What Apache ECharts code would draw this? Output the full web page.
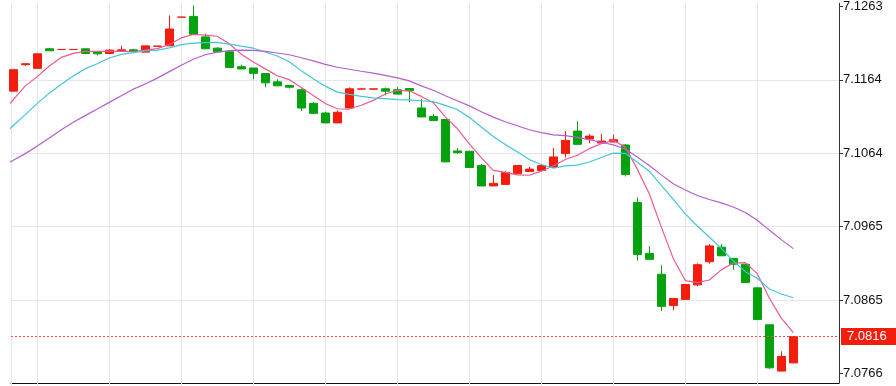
<!DOCTYPE html>
<html><head><meta charset="utf-8">
<script src="https://cdn.jsdelivr.net/npm/echarts/dist/echarts.min.js"></script>
<style>html,body{margin:0;padding:0;background:#fff}#c{width:896px;height:386px}</style>
</head><body><div id="c"></div>
<script>
// Candles (index 0..65)
const opens = [
7.11483, 7.11842, 7.11792, 7.12057, 7.12048, 7.12048, 7.12057, 7.12016, 7.11993, 7.12030,
7.12043, 7.12012, 7.12091, 7.12097, 7.12486, 7.12496, 7.12218, 7.12066, 7.12016, 7.11815,
7.11797, 7.11721, 7.11609, 7.11560, 7.11502, 7.11318, 7.11187, 7.11053, 7.11255, 7.11511,
7.11511, 7.11515, 7.11502, 7.11519, 7.11255, 7.11139, 7.11099, 7.10673, 7.10669, 7.10475,
7.10199, 7.10220, 7.10364, 7.10395, 7.10408, 7.10449, 7.10637, 7.10942, 7.10834, 7.10780,
7.10794, 7.10754, 7.09974, 7.09285, 7.09003, 7.08581, 7.08662, 7.08859, 7.09172, 7.09370,
7.09218, 7.09138, 7.08819, 7.08318, 7.07691, 7.07802];
const closes = [
7.11774, 7.11855, 7.11989, 7.12030, 7.12048, 7.12048, 7.11993, 7.11989, 7.12039, 7.12043,
7.12020, 7.12097, 7.12094, 7.12325, 7.12486, 7.12254, 7.12057, 7.12016, 7.11805, 7.11784,
7.11725, 7.11596, 7.11555, 7.11537, 7.11255, 7.11183, 7.11053, 7.11197, 7.11515, 7.11514,
7.11514, 7.11483, 7.11443, 7.11488, 7.11134, 7.11085, 7.10525, 7.10650, 7.10449, 7.10199,
7.10234, 7.10381, 7.10475, 7.10427, 7.10475, 7.10592, 7.10817, 7.10763, 7.10874, 7.10807,
7.10825, 7.10355, 7.09272, 7.09205, 7.08568, 7.08675, 7.08864, 7.09132, 7.09387, 7.09253,
7.09138, 7.08890, 7.08389, 7.07735, 7.07888, 7.08160];
const lows = [
7.11483, 7.11824, 7.11792, 7.12030, 7.12048, 7.12048, 7.11993, 7.11967, 7.11993, 7.12030,
7.12020, 7.12012, 7.12091, 7.12097, 7.12486, 7.12254, 7.12057, 7.12016, 7.11805, 7.11784,
7.11644, 7.11537, 7.11555, 7.11519, 7.11214, 7.11183, 7.11053, 7.11053, 7.11255, 7.11511,
7.11511, 7.11425, 7.11443, 7.11335, 7.11134, 7.11085, 7.10525, 7.10633, 7.10449, 7.10199,
7.10199, 7.10220, 7.10364, 7.10395, 7.10408, 7.10449, 7.10583, 7.10763, 7.10776, 7.10780,
7.10794, 7.10328, 7.09186, 7.09205, 7.08506, 7.08514, 7.08662, 7.08837, 7.09146, 7.09253,
7.09065, 7.08890, 7.08389, 7.07722, 7.07691, 7.07802];
const highs = [
7.11774, 7.11855, 7.11989, 7.12070, 7.12048, 7.12048, 7.12057, 7.12016, 7.12053, 7.12097,
7.12057, 7.12097, 7.12094, 7.12509, 7.12486, 7.12644, 7.12262, 7.12079, 7.12026, 7.11842,
7.11797, 7.11721, 7.11644, 7.11560, 7.11519, 7.11331, 7.11206, 7.11224, 7.11533, 7.11530,
7.11514, 7.11533, 7.11537, 7.11519, 7.11375, 7.11174, 7.11099, 7.10713, 7.10669, 7.10498,
7.10347, 7.10404, 7.10475, 7.10458, 7.10475, 7.10713, 7.10942, 7.11076, 7.10901, 7.10901,
7.10892, 7.10767, 7.10042, 7.09383, 7.09124, 7.08675, 7.08864, 7.09151, 7.09410, 7.09410,
7.09218, 7.09138, 7.08819, 7.08318, 7.07959, 7.08160];

// Moving averages, index -1..65 (first point lies just left of the visible window)
const maFirstIndex = -1;
const ma5 = [7.11183,
7.11367, 7.11555, 7.11680, 7.11824, 7.11940, 7.11995, 7.12022, 7.12022, 7.12024, 7.12023,
7.12018, 7.12038, 7.12059, 7.12116, 7.12204, 7.12251, 7.12243, 7.12227, 7.12124, 7.11983,
7.11878, 7.11785, 7.11692, 7.11639, 7.11534, 7.11425, 7.11316, 7.11245, 7.11241, 7.11292,
7.11358, 7.11444, 7.11494, 7.11488, 7.11412, 7.11327, 7.11135, 7.10977, 7.10768, 7.10582,
7.10411, 7.10383, 7.10348, 7.10344, 7.10399, 7.10470, 7.10557, 7.10615, 7.10704, 7.10771,
7.10817, 7.10725, 7.10427, 7.10093, 7.09645, 7.09215, 7.08917, 7.08889, 7.08925, 7.09062,
7.09155, 7.09160, 7.09011, 7.08681, 7.08408, 7.08213];
const ma10 = [7.10861,
7.11018, 7.11166, 7.11318, 7.11456, 7.11577, 7.11690, 7.11788, 7.11855, 7.11932, 7.11981,
7.12005, 7.12030, 7.12040, 7.12070, 7.12113, 7.12134, 7.12140, 7.12143, 7.12120, 7.12094,
7.12065, 7.12014, 7.11960, 7.11882, 7.11758, 7.11651, 7.11551, 7.11470, 7.11440, 7.11413,
7.11392, 7.11381, 7.11369, 7.11365, 7.11353, 7.11342, 7.11290, 7.11234, 7.11128, 7.10997,
7.10869, 7.10759, 7.10662, 7.10556, 7.10490, 7.10441, 7.10470, 7.10481, 7.10524, 7.10584,
7.10643, 7.10641, 7.10521, 7.10399, 7.10208, 7.10016, 7.09821, 7.09657, 7.09508, 7.09354,
7.09185, 7.09038, 7.08949, 7.08803, 7.08735, 7.08684];
const ma20 = [7.10458,
7.10548, 7.10637, 7.10740, 7.10848, 7.10959, 7.11062, 7.11152, 7.11241, 7.11331, 7.11421,
7.11510, 7.11580, 7.11660, 7.11748, 7.11835, 7.11915, 7.11976, 7.12012, 7.12032, 7.12038,
7.12035, 7.12022, 7.12000, 7.11976, 7.11936, 7.11893, 7.11846, 7.11807, 7.11780, 7.11753,
7.11727, 7.11698, 7.11664, 7.11623, 7.11555, 7.11496, 7.11420, 7.11353, 7.11284, 7.11205,
7.11131, 7.11069, 7.11015, 7.10960, 7.10921, 7.10892, 7.10880, 7.10858, 7.10826, 7.10791,
7.10756, 7.10700, 7.10591, 7.10477, 7.10349, 7.10228, 7.10145, 7.10070, 7.10016, 7.09969,
7.09914, 7.09840, 7.09735, 7.09601, 7.09472, 7.09350];

const lastPrice = 7.0816;
const yTicks = [7.0766, 7.08654, 7.09648, 7.10642, 7.11636, 7.1263];
const xGridIndices = [-0.19, 2, 8, 14, 20, 26, 32, 38, 44, 50, 56, 62];

const candleData = opens.map((o, i) => [i, o, closes[i], lows[i], highs[i]]);
const maData = arr => arr.map((v, j) => [j + maFirstIndex, v]);

const UP = '#f21d0d', DOWN = '#03a20e';
const PRICE_LINE = '#f04a44';
const gridColor = '#e2e8ee';
const font = 'Liberation Sans, Arial, sans-serif';

const chart = echarts.init(document.getElementById('c'), null, {renderer: 'canvas'});
chart.setOption({
  animation: false,
  backgroundColor: '#ffffff',
  grid: {left: 11, right: 57, top: 0, bottom: 3, containLabel: false},
  xAxis: {
    type: 'value', min: -0.19, max: 68.81,
    axisLine: {show: true, lineStyle: {color: '#111', width: 1}},
    axisTick: {show: true, length: 3, customValues: xGridIndices, lineStyle: {color: gridColor}},
    axisLabel: {show: false},
    splitLine: {show: true, showMinLine: true, lineStyle: {color: gridColor, width: 1}}
  },
  yAxis: {
    type: 'value', position: 'right', scale: true,
    min: 7.075296, max: 7.126744,
    axisLine: {show: true, onZero: false, lineStyle: {color: '#333', width: 1}},
    axisTick: {show: true, length: 4, customValues: yTicks, lineStyle: {color: '#333'}},
    axisLabel: {show: true, customValues: yTicks, margin: 4, color: '#111', fontSize: 13, fontFamily: font,
      formatter: v => Number(v).toFixed(4)},
    splitLine: {show: true, showMinLine: false, showMaxLine: false, lineStyle: {color: gridColor, width: 1}}
  },
  series: [
    {
      type: 'candlestick', name: 'K', data: candleData, barWidth: 8, clip: true,
      itemStyle: {color: UP, color0: DOWN, borderColor: UP, borderColor0: DOWN, borderWidth: 1},
      markLine: {
        silent: true, symbol: ['none', 'none'], animation: false, precision: 4,
        data: [{yAxis: lastPrice, lineStyle: {color: PRICE_LINE, type: [2, 2], width: 1, opacity: 1}}],
        lineStyle: {color: PRICE_LINE, type: [2, 2], width: 1, opacity: 1},
        emphasis: {disabled: true},
        label: {show: true, position: 'end', distance: 2, formatter: () => lastPrice.toFixed(4),
          color: '#fff', backgroundColor: UP, padding: [2, 10, 1, 6], lineHeight: 14,
          fontSize: 13, fontFamily: font}
      }
    },
    {type: 'line', name: 'MA5', data: maData(ma5), showSymbol: false, symbol: 'none', clip: true,
     lineStyle: {color: '#ee5a8c', width: 1.2}},
    {type: 'line', name: 'MA10', data: maData(ma10), showSymbol: false, symbol: 'none', clip: true,
     lineStyle: {color: '#44c5dc', width: 1.2}},
    {type: 'line', name: 'MA20', data: maData(ma20), showSymbol: false, symbol: 'none', clip: true,
     lineStyle: {color: '#b45ed0', width: 1.2}}
  ]
});
</script></body></html>
